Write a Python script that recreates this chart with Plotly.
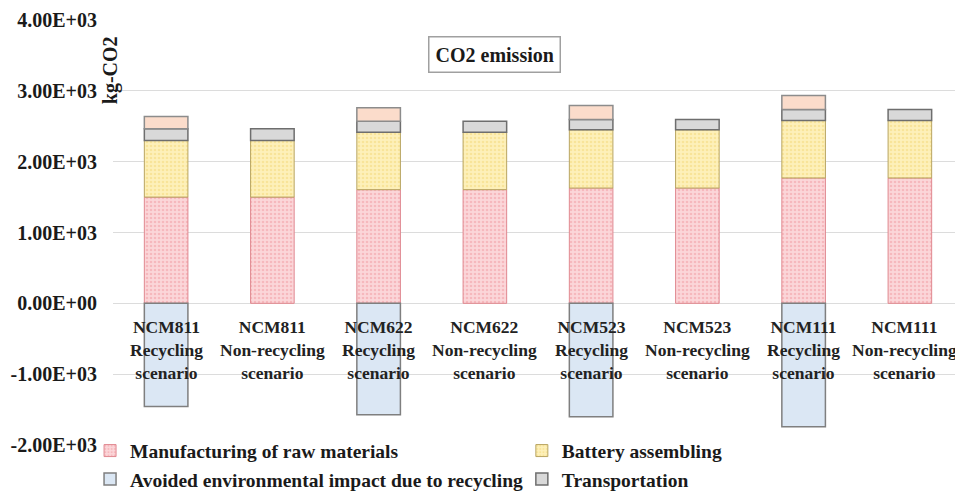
import plotly.graph_objects as go

categories = [
    "NCM811<br>Recycling<br>scenario",
    "NCM811<br>Non-recycling<br>scenario",
    "NCM622<br>Recycling<br>scenario",
    "NCM622<br>Non-recycling<br>scenario",
    "NCM523<br>Recycling<br>scenario",
    "NCM523<br>Non-recycling<br>scenario",
    "NCM111<br>Recycling<br>scenario",
    "NCM111<br>Non-recycling<br>scenario",
]
manufacturing = [1500, 1500, 1605, 1605, 1628, 1628, 1770, 1770]
battery = [800, 800, 812, 812, 822, 822, 812, 812]
transport = [165, 165, 155, 155, 145, 145, 155, 155]
recycling_process = [172, None, 188, None, 198, None, 197, None]
avoided = [-1456, None, -1573, None, -1601, None, -1742, None]

tick_vals = [4000, 3000, 2000, 1000, 0, -1000, -2000]
tick_text = ["4.00E+03", "3.00E+03", "2.00E+03", "1.00E+03", "0.00E+00", "-1.00E+03", "-2.00E+03"]

FONT = "Liberation Serif, Times New Roman, serif"
x_idx = list(range(len(categories)))

fig = go.Figure()
fig.add_trace(go.Bar(
    x=x_idx, y=manufacturing, name="Manufacturing of raw materials", legend="legend",
    legendrank=1,
    marker=dict(color="#fbd0d3", line=dict(color="#e08890", width=1),
                pattern=dict(shape=".", fgcolor="#f19aa2", bgcolor="#fbd6d9", size=4, solidity=0.35)),
))
fig.add_trace(go.Bar(
    x=x_idx, y=battery, name="Battery assembling", legend="legend2", legendrank=1,
    marker=dict(color="#fdeeb0", line=dict(color="#b8a460", width=1),
                pattern=dict(shape=".", fgcolor="#f4d877", bgcolor="#fdf0ba", size=4, solidity=0.35)),
))
fig.add_trace(go.Bar(
    x=x_idx, y=transport, name="Transportation", legend="legend2", legendrank=2,
    marker=dict(color="#d9d9d9", line=dict(color="#6e6e6e", width=1.5)),
))
fig.add_trace(go.Bar(
    x=x_idx, y=recycling_process, name="Recycling process", showlegend=False,
    marker=dict(color="#fbdccb", line=dict(color="#8c8c8c", width=1.5)),
))
fig.add_trace(go.Bar(
    x=x_idx, y=avoided, name="Avoided environmental impact due to recycling",
    legend="legend", legendrank=2,
    marker=dict(color="#dbe7f4", line=dict(color="#7f7f7f", width=1.5)),
))

for i, c in enumerate(categories):
    fig.add_annotation(x=i, y=0, xref="x", yref="y", text=c, showarrow=False,
                       yanchor="top", yshift=-12,
                       xshift=-5 if i == len(categories) - 1 else 0,
                       font=dict(family=FONT, size=17.5, color="#222222", weight="bold"))

fig.add_annotation(x=-0.0035, y=0.882, xref="paper", yref="paper", text="kg-CO2",
                   textangle=-90, showarrow=False, xanchor="center", yanchor="middle",
                   font=dict(family=FONT, size=20, color="#1a1a1a", weight="bold"))
fig.add_annotation(x=0.449, y=0.919, xref="paper", yref="paper", text="CO2 emission",
                   showarrow=False, bordercolor="#a0a0a0", borderwidth=1.5, borderpad=6,
                   bgcolor="white", xanchor="center", yanchor="middle",
                   font=dict(family=FONT, size=20, color="#1a1a1a", weight="bold"))

legend_common = dict(orientation="v", yanchor="top", xanchor="left", y=0.032,
                     itemwidth=30, tracegroupgap=0, bgcolor="rgba(0,0,0,0)",
                     font=dict(family=FONT, size=19.5, color="#1a1a1a", weight="bold"))

# The page body adds an 8 px offset, so the figure is sized to fit the window.
fig.update_layout(
    width=955, height=485,
    margin=dict(l=105, r=0, t=12, b=48, autoexpand=False),
    barmode="relative", bargap=0.59,
    plot_bgcolor="white", paper_bgcolor="white",
    font=dict(family=FONT, size=18, color="#1a1a1a"),
    showlegend=True,
    legend=dict(x=-0.027, **legend_common),
    legend2=dict(x=0.481, **legend_common),
    xaxis=dict(range=[-0.5, 7.5], showticklabels=False, showgrid=False, zeroline=False,
               showline=False, ticks=""),
    yaxis=dict(range=[-2000, 4000], tickvals=tick_vals, ticktext=tick_text,
               showgrid=True, gridcolor="#dcdcdc", gridwidth=1, zeroline=True,
               zerolinecolor="#dcdcdc", zerolinewidth=1, showline=False, ticks="",
               ticklabelstandoff=15,
               tickfont=dict(family=FONT, size=20, color="#1a1a1a", weight="bold")),
)

fig.write_html("out.html")
